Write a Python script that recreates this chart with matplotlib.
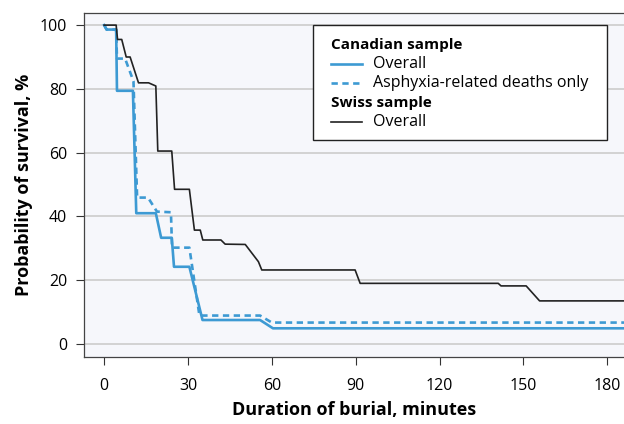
import matplotlib
matplotlib.use("Agg")
import matplotlib.pyplot as plt
from matplotlib.lines import Line2D
from matplotlib.patches import Rectangle

plt.rcParams['font.family'] = ['Open Sans', 'DejaVu Sans']

# Canadian sample, overall
can_x = [0, 0.9, 4.3, 4.6, 10.3, 11.5, 18.5, 20.4, 24.2, 25.0, 30.5, 35.2, 55.8, 60.4, 186]
can_y = [100, 98.6, 98.6, 79.4, 79.4, 41.0, 41.0, 33.3, 33.3, 24.2, 24.2, 7.5, 7.5, 4.9, 4.9]

# Canadian sample, asphyxia-related deaths only
asp_x = [0, 0.9, 4.3, 4.6, 7.5, 10.5, 11.8, 15.7, 18.9, 23.9, 24.3, 30.5, 34.1, 55.8, 60.0, 186]
asp_y = [100, 98.6, 98.6, 89.5, 89.5, 82.4, 45.9, 45.9, 41.5, 41.3, 30.2, 30.2, 8.9, 8.9, 6.7, 6.7]

# Swiss sample, overall
swi_x = [0, 4.3, 4.8, 6.3, 7.9, 9.3, 12.3, 15.9, 18.5, 19.2, 24.2, 25.2, 30.5, 32.3, 34.4, 35.3,
         41.8, 43.3, 50.5, 55.2, 56.4, 89.8, 91.6, 141, 142, 151, 155.8, 186]
swi_y = [100, 100, 95.5, 95.5, 90.0, 90.0, 81.9, 81.9, 80.9, 60.5, 60.5, 48.5, 48.5, 35.7, 35.7, 32.6,
         32.6, 31.3, 31.2, 25.8, 23.2, 23.2, 19.0, 19.0, 18.2, 18.2, 13.5, 13.5]

x_ticks = [0, 30, 60, 90, 120, 150, 180]
y_ticks = [0, 20, 40, 60, 80, 100]

blue = '#3d9ad3'
dark = '#222222'

fig = plt.figure(figsize=(6.24, 4.24), dpi=100)
ax = fig.add_axes([84 / 624, 1 - 357 / 424, 540 / 624, 344 / 424])
ax.set_facecolor('#f6f7fb')

for yt in y_ticks:
    ax.axhline(yt, color='#cccccc', lw=1.2, zorder=0)

ax.plot(can_x, can_y, color=blue, lw=1.9, zorder=3)
ax.plot(asp_x, asp_y, color=blue, lw=1.9, dashes=(2.4, 1.7), zorder=3)
ax.plot(swi_x, swi_y, color=dark, lw=1.2, zorder=4)

ax.set_xlim(-7.2, 186)
ax.set_ylim(-4.1, 103.8)
ax.set_xticks(x_ticks)
ax.set_yticks(y_ticks)
ax.tick_params(labelsize=11.5, length=6, width=0.8, color='#333333', pad=6)
ax.tick_params(axis='x', pad=9)
for s in ['left', 'bottom', 'top']:
    ax.spines[s].set_color('#444444')
    ax.spines[s].set_linewidth(0.9)
ax.spines['right'].set_visible(False)

ax.set_xlabel('Duration of burial, minutes', fontsize=13, fontweight='bold', labelpad=5)
ax.set_ylabel('Probability of survival, %', fontsize=13, fontweight='bold', labelpad=5)


# legend drawn by hand so the group headers sit flush left
def fx(px):
    return px / 624


def fy(py):
    return 1 - py / 424


fig.add_artist(Rectangle((fx(313), fy(140)), fx(607) - fx(313), fy(25) - fy(140),
                         transform=fig.transFigure, facecolor='white', edgecolor='#222222', lw=1.0, zorder=5))
rows = [
    ('Canadian sample', None, 45),
    ('Overall', dict(color=blue, lw=1.9), 63.5),
    ('Asphyxia-related deaths only', dict(color=blue, lw=1.9, dashes=(2.4, 1.7)), 83),
    ('Swiss sample', None, 103),
    ('Overall', dict(color=dark, lw=1.2), 122),
]
for label, style, py in rows:
    if style is None:
        fig.text(fx(331), fy(py), label, fontsize=11, fontweight='bold', va='center', ha='left', zorder=6)
    else:
        fig.add_artist(Line2D([fx(331), fx(362)], [fy(py), fy(py)], transform=fig.transFigure, zorder=6, **style))
        fig.text(fx(373), fy(py), label, fontsize=11.5, va='center', ha='left', zorder=6)

fig.savefig('out.png', dpi=100)
